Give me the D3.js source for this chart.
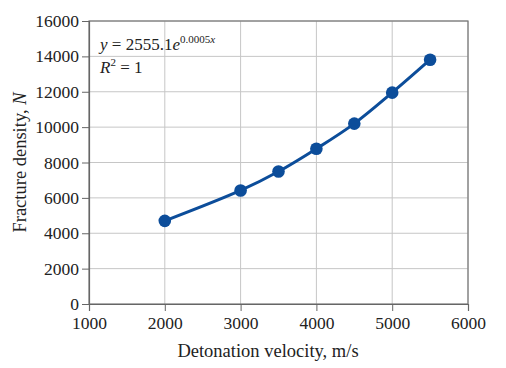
<!DOCTYPE html>
<html>
<head>
<meta charset="utf-8">
<script src="https://cdn.jsdelivr.net/npm/d3@7"></script>
<style>
  body { margin: 0; background: #fff; }
  text { font-family: "Liberation Serif", "Times New Roman", serif; fill: #222; }
</style>
</head>
<body>
<div id="chart"></div>
<script>

// Data
const velocities = [2000, 3000, 3500, 4000, 4500, 5000, 5500];
const densities = [4700, 6420, 7490, 8780, 10200, 11950, 13810];
const xTicks = [1000, 2000, 3000, 4000, 5000, 6000];
const yTicks = [0, 2000, 4000, 6000, 8000, 10000, 12000, 14000, 16000];

const width = 506, height = 368;
const margin = {top: 21, right: 38, bottom: 64, left: 89};
const innerW = width - margin.left - margin.right;
const innerH = height - margin.top - margin.bottom;

const svg = d3.select("#chart").append("svg")
    .attr("width", width)
    .attr("height", height);

const g = svg.append("g")
    .attr("transform", "translate(" + margin.left + "," + margin.top + ")");

const x = d3.scaleLinear().domain([1000, 6000]).range([0, innerW]);
const y = d3.scaleLinear().domain([0, 16000]).range([innerH, 0]);

// gridlines
g.append("g").selectAll("line")
    .data(xTicks.slice(1))
    .join("line")
    .attr("x1", d => x(d)).attr("x2", d => x(d))
    .attr("y1", 0).attr("y2", innerH)
    .attr("stroke", "#c6c6c6").attr("stroke-width", 1);

g.append("g").selectAll("line")
    .data(yTicks.slice(1))
    .join("line")
    .attr("x1", 0).attr("x2", innerW)
    .attr("y1", d => y(d)).attr("y2", d => y(d))
    .attr("stroke", "#c6c6c6").attr("stroke-width", 1);

// plot frame
g.append("rect")
    .attr("width", innerW).attr("height", innerH)
    .attr("fill", "none").attr("stroke", "#777").attr("stroke-width", 1.2);

// axes
const xAxis = g.append("g")
    .attr("transform", "translate(0," + innerH + ")")
    .call(d3.axisBottom(x).tickValues(xTicks).tickFormat(d3.format("d")).tickSize(7).tickPadding(6));

const yAxis = g.append("g")
    .call(d3.axisLeft(y).tickValues(yTicks).tickFormat(d3.format("d")).tickSize(7).tickPadding(3));

[xAxis, yAxis].forEach(a => {
    a.select(".domain").attr("stroke", "#666").attr("stroke-width", 1.2);
    a.selectAll(".tick line").attr("stroke", "#666");
    a.selectAll("text")
        .style("font-family", "'Liberation Serif', serif")
        .style("font-size", "17.5px")
        .attr("fill", "#222");
});

// axis titles
svg.append("text")
    .attr("x", 268)
    .attr("y", 357)
    .attr("text-anchor", "middle")
    .style("font-size", "18.5px")
    .text("Detonation velocity, m/s");

const yTitle = svg.append("text")
    .attr("transform", "translate(26," + (margin.top + innerH / 2) + ") rotate(-90)")
    .attr("text-anchor", "middle")
    .style("font-size", "18.5px");
yTitle.append("tspan").text("Fracture density, ");
yTitle.append("tspan").style("font-style", "italic").text("N");

// trend line + points
const color = "#0c4d9a";
const line = d3.line()
    .x((d, i) => x(velocities[i]))
    .y(d => y(d))
    .curve(d3.curveCatmullRom);

g.append("path")
    .datum(densities)
    .attr("d", line)
    .attr("fill", "none")
    .attr("stroke", color)
    .attr("stroke-width", 3);

g.selectAll(".pt")
    .data(densities)
    .join("circle")
    .attr("class", "pt")
    .attr("cx", (d, i) => x(velocities[i]))
    .attr("cy", d => y(d))
    .attr("r", 6.3)
    .attr("fill", color);

// equation
const eq = svg.append("text")
    .attr("x", 100).attr("y", 50)
    .style("font-size", "17px");
eq.append("tspan").style("font-style", "italic").text("y");
eq.append("tspan").text(" = 2555.1");
eq.append("tspan").style("font-style", "italic").text("e");
eq.append("tspan").attr("dy", -7).style("font-size", "11px").text("0.0005");
eq.append("tspan").style("font-size", "11px").style("font-style", "italic").text("x");

const r2 = svg.append("text")
    .attr("x", 100).attr("y", 73)
    .style("font-size", "17px");
r2.append("tspan").style("font-style", "italic").text("R");
r2.append("tspan").attr("dy", -7).style("font-size", "11px").text("2");
r2.append("tspan").attr("dy", 7).text(" = 1");

</script>
</body>
</html>
